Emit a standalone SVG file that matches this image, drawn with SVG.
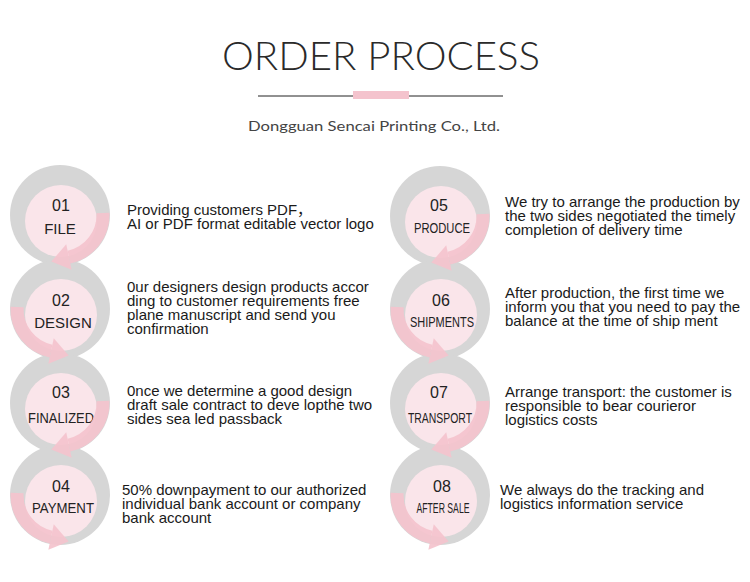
<svg xmlns="http://www.w3.org/2000/svg" xmlns:xlink="http://www.w3.org/1999/xlink" width="750" height="582" viewBox="0 0 750 582">
<style>
.ring{fill:#d6d6d6}
.disk{fill:#fae5ea}
.num{font-family:"Liberation Sans",Arial,sans-serif;font-size:16px;fill:#222;text-anchor:middle}
.lbl{font-family:"Liberation Sans",Arial,sans-serif;font-size:15px;fill:#222;text-anchor:middle}
.desc{font-family:"Liberation Sans","Noto Sans CJK SC",Arial,sans-serif;font-size:15px;fill:#1a1a1a}
.title{font-family:Lato,"DejaVu Sans",sans-serif;font-weight:300;font-size:39px;fill:#2a2a2a}
.sub{font-family:Lato,"DejaVu Sans",sans-serif;font-weight:400;font-size:14px;fill:#444}
.band{fill:none;stroke:#f4c3cd;stroke-width:13;opacity:.92}
.head{fill:#f4c3cd;opacity:.92}
</style>
<defs>
<g id="arrowR">
<path class="band" d="M42.95 -2 A43 43 0 0 1 8.94 42.06"/>
<polygon class="head" points="11.64,54.77 6.24,29.35 -8.66,46.5"/>
</g>
<g id="arrowL">
<path class="band" d="M-42.95 -2 A43 43 0 0 0 -8.94 42.06"/>
<polygon class="head" points="-11.64,54.77 -6.24,29.35 8.66,46.5"/>
</g>
</defs>
<rect width="750" height="582" fill="#fff"/>
<g id="header">
<text class="title" x="381" y="70" text-anchor="middle" textLength="318" lengthAdjust="spacingAndGlyphs">ORDER PROCESS</text>
<line x1="258" y1="96" x2="503" y2="96" stroke="#222" stroke-width="1"/>
<rect x="353" y="91" width="56" height="8" fill="#f4c3cd"/>
<text class="sub" x="374" y="131" text-anchor="middle" textLength="252" lengthAdjust="spacingAndGlyphs">Dongguan Sencai Printing Co., Ltd.</text>
</g>
<g id="step01">
<circle class="ring" cx="60" cy="215" r="50"/>
<circle class="disk" cx="61" cy="221" r="36"/>
<text class="num" x="61" y="211">01</text>
<text class="lbl" x="60" y="234">FILE</text>
<text class="desc"><tspan x="127" y="215">Providing customers PDF，</tspan><tspan x="127" y="229">AI or PDF format editable vector logo</tspan></text>
</g>
<g id="step02">
<circle class="ring" cx="60" cy="309" r="50"/>
<circle class="disk" cx="61" cy="315" r="36"/>
<text class="num" x="61" y="306">02</text>
<text class="lbl" x="63" y="328">DESIGN</text>
<text class="desc"><tspan x="127" y="292">0ur designers design products accor</tspan><tspan x="127" y="306">ding to customer requirements free</tspan><tspan x="127" y="320">plane manuscript and send you</tspan><tspan x="127" y="334">confirmation</tspan></text>
</g>
<g id="step03">
<circle class="ring" cx="60" cy="403" r="50"/>
<circle class="disk" cx="61" cy="409" r="36"/>
<text class="num" x="61" y="398">03</text>
<text class="lbl" x="61" y="423" textLength="66" lengthAdjust="spacingAndGlyphs">FINALIZED</text>
<text class="desc"><tspan x="127" y="396">0nce we determine a good design</tspan><tspan x="127" y="410">draft sale contract to deve lopthe two</tspan><tspan x="127" y="424">sides sea led passback</tspan></text>
</g>
<g id="step04">
<circle class="ring" cx="60" cy="495" r="50"/>
<circle class="disk" cx="61" cy="501" r="36"/>
<text class="num" x="61" y="492">04</text>
<text class="lbl" x="63" y="513" textLength="62" lengthAdjust="spacingAndGlyphs">PAYMENT</text>
<text class="desc"><tspan x="122" y="495">50% downpayment to our authorized</tspan><tspan x="122" y="509">individual bank account or company</tspan><tspan x="122" y="523">bank account</tspan></text>
</g>
<g id="step05">
<circle class="ring" cx="440" cy="216" r="50"/>
<circle class="disk" cx="441" cy="222" r="36"/>
<text class="num" x="439" y="211">05</text>
<text class="lbl" x="442" y="233" textLength="56" lengthAdjust="spacingAndGlyphs">PRODUCE</text>
<text class="desc"><tspan x="505" y="207">We try to arrange the production by</tspan><tspan x="505" y="221">the two sides negotiated the timely</tspan><tspan x="505" y="235">completion of delivery time</tspan></text>
</g>
<g id="step06">
<circle class="ring" cx="440" cy="309" r="50"/>
<circle class="disk" cx="441" cy="315" r="36"/>
<text class="num" x="441" y="306">06</text>
<text class="lbl" x="442" y="327" textLength="64" lengthAdjust="spacingAndGlyphs">SHIPMENTS</text>
<text class="desc"><tspan x="505" y="298">After production, the first time we</tspan><tspan x="505" y="312">inform you that you need to pay the</tspan><tspan x="505" y="326">balance at the time of ship ment</tspan></text>
</g>
<g id="step07">
<circle class="ring" cx="440" cy="403" r="50"/>
<circle class="disk" cx="441" cy="409" r="36"/>
<text class="num" x="439" y="398">07</text>
<text class="lbl" x="440" y="423" textLength="64" lengthAdjust="spacingAndGlyphs">TRANSPORT</text>
<text class="desc"><tspan x="505" y="397">Arrange transport: the customer is</tspan><tspan x="505" y="411">responsible to bear courieror</tspan><tspan x="505" y="425">logistics costs</tspan></text>
</g>
<g id="step08">
<circle class="ring" cx="440" cy="495" r="50"/>
<circle class="disk" cx="441" cy="501" r="36"/>
<text class="num" x="442" y="492">08</text>
<text class="lbl" x="443" y="513" textLength="53" lengthAdjust="spacingAndGlyphs">AFTER SALE</text>
<text class="desc"><tspan x="500" y="495">We always do the tracking and</tspan><tspan x="500" y="509">logistics information service</tspan></text>
</g>
<g id="connectors">
<use xlink:href="#arrowR" transform="translate(60,215)"/>
<use xlink:href="#arrowL" transform="translate(60,309)"/>
<use xlink:href="#arrowR" transform="translate(60,403)"/>
<use xlink:href="#arrowL" transform="translate(60,495)"/>
<use xlink:href="#arrowR" transform="translate(440,216)"/>
<use xlink:href="#arrowL" transform="translate(440,309)"/>
<use xlink:href="#arrowR" transform="translate(440,403)"/>
<use xlink:href="#arrowL" transform="translate(440,495)"/>
</g>
</svg>
